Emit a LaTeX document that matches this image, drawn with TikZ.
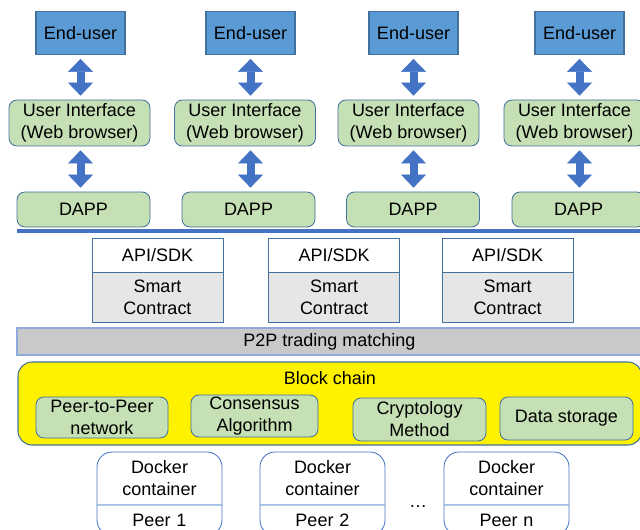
\documentclass[tikz,border=0pt]{standalone}
\usepackage{fontspec}
\setmainfont{Liberation Sans}
\usetikzlibrary{arrows.meta,positioning,shapes.multipart}

\definecolor{userblue}{HTML}{5B9BD5}
\definecolor{edgeblue}{HTML}{41719C}
\definecolor{arrowblue}{HTML}{4472C4}
\definecolor{appgreen}{HTML}{C5E0B4}
\definecolor{contractgray}{HTML}{E7E6E6}
\definecolor{matchgray}{HTML}{C9C9C9}
\definecolor{matchedge}{HTML}{8EA9DB}
\definecolor{splitblue}{HTML}{9DC3E6}

\begin{document}
\begin{tikzpicture}[every node/.style={outer sep=0pt,font=\fontsize{12.8}{15.6}\selectfont},
    enduser/.style={draw=edgeblue,fill=userblue,line width=0.75pt,minimum width=2.225cm,minimum
    height=1.075cm},
    ui/.style={draw=edgeblue,fill=appgreen,line width=0.6pt,rounded corners=0.2cm,align=center,
    minimum width=3.525cm,minimum height=1.15cm,inner sep=1pt},
    dapp/.style={ui,minimum width=3.325cm,minimum height=0.875cm},
    fat/.style={draw=arrowblue,line width=0.2cm,shorten <=0.11cm,shorten >=0.11cm,
    {Triangle[length=0.325cm,width=0.625cm,line width=0.4pt]}-{Triangle[length=0.325cm,width=0.625cm,line width=0.4pt]}},
    bus/.style={draw=arrowblue,line width=0.1cm},
    api/.style={draw=edgeblue,fill=white,line width=0.6pt,minimum width=3.275cm,minimum height=0.85cm},
    smart/.style={api,fill=contractgray,align=center,minimum height=1.25cm,inner sep=1pt},
    match/.style={draw=matchedge,fill=matchgray,line width=0.75pt,minimum width=15.625cm,minimum
    height=0.675cm,inner sep=1pt},
    chain/.style={draw=edgeblue,fill=yellow,line width=0.75pt,rounded corners=0.35cm,minimum
    width=15.6cm,minimum height=2.075cm},
    docker/.style={rectangle split,rectangle split parts=2,draw=arrowblue,line width=0.6pt,
    rounded corners=0.375cm,fill=white,align=center,text width=2.9cm,inner xsep=0.1125cm,
    inner ysep=6pt,anchor=north}]

  \useasboundingbox (0,0) rectangle (16,-13.225);
  \clip (0,0) rectangle (16,-13.225);

  % front ends
  \foreach \i/\ex/\ux/\dx in {1/2.0125/1.9875/2.0875,2/6.2625/6.125/6.2125,
    3/10.3375/10.2125/10.325,4/14.4875/14.3625/14.4625}
  {
   \node[enduser] (e\i) at (\ex,-0.825) {End-user};
   \node[ui] (u\i) at (\ux,-3.075) {User Interface\\(Web browser)};
   \node[dapp] (d\i) at (\dx,-5.2375) {DAPP};
   \draw[fat] (e\i.south) -- (e\i.south |- u\i.north);
   \draw[fat] (u\i.south -| e\i.south) -- (d\i.north -| e\i.south);
  }
  \draw[bus] ([yshift=-0.11cm]d1.south west) -- ++(16,0);

  % contracts
  \foreach \i/\x in {1/3.9375,2/8.35,3/12.6875}
  {
   \node[api] (a\i) at (\x,-6.375) {API/SDK};
   \node[smart,below=0pt of a\i] (s\i) {Smart\\Contract};
  }
  \node[match] (p2p) at (8.2375,-8.5375) {P2P trading matching};

  % block chain
  \node[chain] (chain) at (8.25,-10.0875) {};
  \node (chaintitle) at (8.25,-9.45) {Block chain};
  \node[ui,minimum width=3.3cm,minimum height=1.025cm] (net) at (2.55,-10.4375)
   {Peer-to-Peer\\network};
  \node[ui,minimum width=3.175cm,minimum height=1.05cm] (cons) at (6.3625,-10.4)
   {Consensus\\Algorithm};
  \node[ui,minimum width=3.325cm,minimum height=1.075cm] (crypt) at (10.4875,-10.4875)
   {Cryptology\\Method};
  \node[ui,minimum width=3.325cm,minimum height=1.075cm] (store) at (14.1625,-10.4625)
   {Data storage};

  % peers
  \foreach \i/\x/\p in {1/3.9875/Peer 1,2/8.0625/Peer 2,3/12.6625/Peer n}
  {
   \node[docker] (k\i) at (\x,-11.3) {Docker\\container\nodepart{two}\p};
   \draw[splitblue,line width=0.6pt] (k\i.text split west) -- (k\i.text split east);
  }
  \node (dots) at (10.45,-12.675) {\dots};
\end{tikzpicture}
\end{document}
